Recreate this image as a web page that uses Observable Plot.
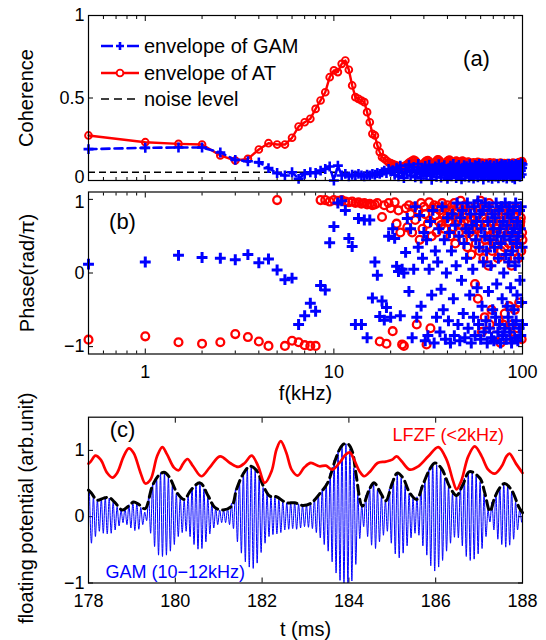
<!DOCTYPE html>
<html><head><meta charset="utf-8">
<script src="https://cdn.jsdelivr.net/npm/d3@7"></script>
<script src="https://cdn.jsdelivr.net/npm/@observablehq/plot@0.6"></script>
<style>
body{margin:0;background:#fff;}
#wrap{position:relative;width:546px;height:640px;font-family:"Liberation Sans",Arial,Helvetica,sans-serif;}
#wrap > svg{position:absolute;left:0;overflow:visible;background:transparent;}
.leg{position:absolute;left:101px;height:26px;display:flex;align-items:center;font-size:20px;white-space:nowrap;color:#000;}
.leg svg{margin-right:5px;overflow:visible;}
</style></head><body><div id="wrap"></div><script>
// ---------------- DATA ----------------
// frequency grid (kHz), 0.5 kHz resolution
const freqStep = 0.5;
const freqCount = 200;
// (a) coherence, envelope of AT (red)
const atCoherence = [
0.273,0.232,0.222,0.218,0.152,0.121,0.131,0.188,0.226,0.218,
0.218,0.259,0.327,0.353,0.374,0.434,0.485,0.535,0.626,0.667,
0.657,0.707,0.727,0.671,0.576,0.505,0.495,0.485,0.475,0.414,
0.353,0.283,0.273,0.212,0.172,0.141,0.133,0.121,0.110,0.105,
0.100,0.095,0.090,0.088,0.085,0.082,0.086,0.092,0.100,0.108,
0.114,0.120,0.126,0.122,0.112,0.100,0.092,0.088,0.095,0.106,
0.115,0.121,0.124,0.117,0.108,0.099,0.094,0.101,0.112,0.121,
0.128,0.126,0.119,0.108,0.100,0.095,0.092,0.101,0.113,0.119,
0.124,0.127,0.121,0.110,0.101,0.097,0.104,0.113,0.120,0.118,
0.110,0.102,0.098,0.105,0.114,0.121,0.118,0.109,0.100,0.094,
0.099,0.107,0.114,0.112,0.104,0.097,0.091,0.095,0.103,0.110,
0.106,0.098,0.093,0.099,0.108,0.113,0.107,0.098,0.092,0.096,
0.104,0.109,0.103,0.095,0.090,0.094,0.101,0.107,0.104,0.097,
0.091,0.096,0.104,0.110,0.106,0.098,0.092,0.090,0.097,0.105,
0.108,0.101,0.094,0.089,0.093,0.100,0.106,0.103,0.096,0.090,
0.094,0.102,0.108,0.104,0.097,0.091,0.088,0.094,0.101,0.106,
0.102,0.095,0.090,0.093,0.100,0.105,0.100,0.093,0.088,0.092,
0.099,0.104,0.101,0.095,0.090,0.094,0.102,0.108,0.104,0.097,
0.091,0.088,0.093,0.100,0.106,0.103,0.096,0.091,0.095,0.103,
0.109,0.112,0.106,0.099,0.094,0.100,0.108,0.114,0.118,0.110];
// (a) coherence, envelope of GAM (blue)
const gamCoherence = [
0.190,0.198,0.200,0.200,0.170,0.125,0.117,0.110,0.075,0.045,
0.030,0.050,0.010,0.040,0.050,0.045,0.060,0.070,0.085,0.000,
0.090,0.030,0.040,0.025,0.035,0.030,0.040,0.030,0.025,0.035,
0.030,0.040,0.035,0.045,0.040,0.050,0.060,0.045,0.070,0.055,
0.062,0.035,0.078,0.025,0.090,0.045,0.015,0.070,0.052,0.096,
0.030,0.066,0.082,0.020,0.058,0.100,0.040,0.012,0.075,0.050,
0.088,0.028,0.064,0.095,0.036,0.005,0.072,0.048,0.085,0.022,
0.060,0.098,0.042,0.018,0.080,0.055,0.092,0.030,0.068,0.010,
0.074,0.046,0.090,0.026,0.062,0.100,0.038,0.070,0.015,0.084,
0.050,0.094,0.033,0.068,0.008,0.078,0.056,0.092,0.024,0.064,
0.086,0.040,0.072,0.018,0.098,0.052,0.030,0.080,0.060,0.012,
0.070,0.092,0.036,0.064,0.088,0.020,0.058,0.100,0.044,0.076,
0.028,0.066,0.090,0.006,0.054,0.082,0.038,0.072,0.096,0.046,
0.062,0.018,0.086,0.050,0.094,0.032,0.068,0.010,0.078,0.056,
0.090,0.040,0.070,0.024,0.060,0.098,0.046,0.082,0.014,0.066,
0.052,0.088,0.030,0.074,0.100,0.042,0.064,0.020,0.092,0.058,
0.076,0.034,0.094,0.056,0.012,0.084,0.048,0.070,0.102,0.038,
0.064,0.090,0.026,0.080,0.054,0.096,0.016,0.072,0.044,0.088,
0.058,0.008,0.078,0.100,0.040,0.066,0.092,0.030,0.084,0.050,
0.094,0.046,0.070,0.022,0.086,0.060,0.104,0.036,0.076,0.098];
const noiseLevel = 0.05;
// (b) phase (rad/pi), AT (red)
const atPhase = [
-0.905,-0.86,-0.94,-0.96,-0.94,-0.83,-0.87,-0.93,-0.99,0.99,
-0.99,-0.92,-0.94,-0.98,-0.99,-0.99,0.99,0.99,0.97,0.99,
0.98,0.99,0.97,0.96,0.97,0.95,0.96,0.94,0.95,0.93,
0.94,0.92,0.93,0.95,-0.93,0.76,0.92,-0.96,0.95,0.88,
-0.79,0.96,0.67,0.85,0.55,-0.97,-0.99,0.88,0.62,0.92,
0.80,0.55,0.90,0.72,-0.70,0.85,0.45,0.95,0.60,0.90,
0.80,-0.97,0.67,0.96,-0.75,0.50,0.88,0.92,0.78,0.55,
0.90,0.70,0.85,0.65,0.95,0.80,0.60,0.88,0.75,0.92,
0.70,0.85,0.50,0.90,0.78,0.62,0.95,0.40,0.82,0.70,
0.90,0.55,0.75,0.98,0.65,0.85,0.45,0.70,0.92,0.60,
0.80,0.35,0.70,0.90,0.55,0.75,0.25,0.60,0.85,0.50,
0.72,-0.15,0.40,0.90,0.60,-0.35,0.80,0.30,0.65,0.98,
0.55,-0.80,0.75,0.20,0.90,-0.60,0.45,0.70,0.35,0.85,
0.60,0.10,0.95,-0.70,0.50,0.80,-0.50,0.30,0.70,0.55,
0.90,0.55,-0.85,0.40,0.75,0.65,0.60,0.20,0.85,-0.65,
0.45,0.70,-0.95,0.30,0.80,0.60,0.55,-0.70,0.90,0.35,
-0.55,0.65,0.80,0.90,0.50,0.20,-0.80,0.75,0.40,-0.45,
0.60,0.90,0.80,0.55,0.10,-0.70,0.70,0.45,-0.90,0.65,
0.30,-0.50,0.80,0.55,0.88,0.70,0.40,-0.75,0.60,0.20,
0.85,-0.40,0.50,0.65,0.70,0.75,0.30,-0.90,0.55,0.45];
// (b) phase (rad/pi), GAM (blue)
const gamPhase = [
0.12,0.15,0.24,0.21,0.20,0.18,0.25,0.14,0.19,0.04,
-0.09,-0.07,-0.70,-0.58,-0.41,-0.52,-0.17,-0.23,0.41,0.63,
0.95,0.98,0.85,0.47,0.36,-0.70,0.74,-0.70,0.72,-0.88,
0.72,-0.34,0.15,-0.03,-0.59,-0.38,-0.64,-0.47,0.50,-0.60,
0.60,0.47,0.09,0.02,-0.58,0.05,0.00,0.28,0.74,-0.25,
0.60,-0.88,0.05,0.90,-0.60,0.35,0.78,-0.45,0.20,0.55,
-0.92,0.45,-0.85,0.05,0.70,-0.30,0.85,-0.95,0.30,-0.60,
0.15,0.60,-0.80,-0.22,0.90,-0.50,0.45,-0.90,0.00,0.75,
-0.65,0.55,-0.95,0.30,0.80,-0.35,-0.85,0.65,0.10,0.95,
-0.70,0.50,-0.92,0.75,-0.10,0.85,-0.55,0.40,-0.88,0.60,
0.20,0.95,-0.75,0.55,-0.30,0.80,-0.95,0.65,0.05,-0.60,
0.90,-0.85,0.45,0.70,-0.20,0.98,-0.70,0.35,0.80,-0.90,
0.60,-0.45,0.85,0.15,-0.80,0.50,0.95,-0.65,0.30,-0.95,
0.70,-0.25,0.90,-0.75,0.45,0.10,-0.88,0.80,-0.50,0.60,
-0.92,0.35,0.75,-0.60,0.95,-0.15,0.50,-0.80,0.20,0.85,
-0.70,0.60,-0.95,0.40,0.90,-0.35,-0.85,0.70,0.00,0.50,
-0.75,0.95,0.25,-0.90,0.65,-0.45,0.80,-0.60,0.15,0.90,
-0.80,0.45,-0.20,0.75,-0.95,0.55,0.30,-0.70,0.85,-0.50,
0.60,-0.88,0.10,0.95,-0.65,0.40,-0.30,0.70,-0.92,0.50,
0.20,-0.75,0.85,-0.10,0.60,-0.85,0.90,-0.40,0.35,-0.70];
// (c) time series
const tStart = 178, tEnd = 188;
const gamCycles = 110; // ~11 kHz over 10 ms
// per-cycle maximum and minimum of the GAM (10-12 kHz) signal
const gamMax = [
0.37,0.30,0.25,0.27,0.29,0.28,0.22,0.15,0.10,0.13,
0.18,0.22,0.20,0.14,0.07,0.30,0.49,0.60,0.66,0.67,
0.60,0.47,0.35,0.28,0.25,0.33,0.44,0.50,0.51,0.42,
0.30,0.19,0.13,0.10,0.10,0.13,0.20,0.41,0.55,0.67,
0.74,0.76,0.71,0.58,0.44,0.34,0.30,0.30,0.27,0.23,
0.21,0.21,0.21,0.19,0.17,0.18,0.20,0.27,0.34,0.42,
0.50,0.66,0.85,0.99,1.08,1.10,1.02,0.74,0.35,0.17,
0.32,0.45,0.51,0.41,0.31,0.25,0.42,0.58,0.66,0.59,
0.47,0.35,0.28,0.30,0.45,0.58,0.71,0.80,0.78,0.72,
0.58,0.45,0.35,0.34,0.45,0.58,0.68,0.68,0.62,0.53,
0.34,0.10,0.22,0.36,0.45,0.50,0.47,0.38,0.22,0.10];
const gamMin = [
-0.40,-0.30,-0.22,-0.25,-0.26,-0.25,-0.20,-0.14,-0.09,-0.12,
-0.17,-0.21,-0.19,-0.12,-0.06,-0.25,-0.45,-0.58,-0.60,-0.58,
-0.52,-0.42,-0.30,-0.24,-0.22,-0.30,-0.42,-0.49,-0.48,-0.38,
-0.26,-0.17,-0.12,-0.09,-0.09,-0.12,-0.18,-0.38,-0.55,-0.68,
-0.76,-0.78,-0.70,-0.54,-0.40,-0.30,-0.27,-0.26,-0.24,-0.20,
-0.19,-0.18,-0.19,-0.17,-0.15,-0.16,-0.18,-0.24,-0.32,-0.42,
-0.52,-0.68,-0.85,-0.96,-1.00,-1.00,-0.97,-0.72,-0.33,-0.15,
-0.30,-0.43,-0.48,-0.38,-0.28,-0.22,-0.40,-0.56,-0.62,-0.55,
-0.44,-0.32,-0.25,-0.28,-0.44,-0.58,-0.74,-0.82,-0.76,-0.66,
-0.52,-0.40,-0.31,-0.32,-0.44,-0.60,-0.66,-0.64,-0.56,-0.48,
-0.30,-0.08,-0.20,-0.34,-0.42,-0.46,-0.43,-0.34,-0.20,-0.08];
// black dashed envelope of GAM
const envT = [178,178.06,178.2,178.35,178.47,178.6,178.78,178.92,179.04,179.15,179.3,179.47,179.6,179.74,179.86,180.04,180.2,180.37,180.57,180.76,180.91,181.1,181.3,181.41,181.56,181.72,181.87,182.03,182.18,182.33,182.56,182.75,182.93,183.12,183.32,183.51,183.7,183.85,183.97,184.08,184.16,184.31,184.47,184.58,184.73,184.85,185.0,185.12,185.25,185.4,185.56,185.71,185.86,185.98,186.13,186.33,186.48,186.63,186.78,187.02,187.13,187.25,187.36,187.48,187.59,187.75,187.92,188.0];
const envV = [0.40,0.36,0.25,0.28,0.29,0.22,0.10,0.16,0.22,0.19,0.12,0.46,0.61,0.67,0.60,0.36,0.26,0.41,0.51,0.31,0.14,0.10,0.16,0.41,0.64,0.76,0.70,0.46,0.31,0.30,0.21,0.21,0.17,0.20,0.34,0.51,0.88,1.08,1.10,0.98,0.66,0.16,0.41,0.51,0.36,0.24,0.51,0.66,0.58,0.36,0.26,0.49,0.71,0.81,0.73,0.44,0.32,0.49,0.68,0.58,0.36,0.08,0.29,0.44,0.50,0.40,0.14,0.06];
// red LFZF (<2 kHz)
const lfzfT = [178,178.05,178.16,178.28,178.43,178.55,178.66,178.81,178.93,179.04,179.2,179.31,179.43,179.58,179.7,179.81,179.97,180.08,180.18,180.28,180.41,180.6,180.79,181.03,181.26,181.45,181.6,181.76,181.91,182.06,182.22,182.33,182.43,182.56,182.68,182.82,182.97,183.12,183.32,183.47,183.62,183.78,183.93,184.02,184.12,184.24,184.35,184.5,184.66,184.85,185.0,185.1,185.21,185.4,185.6,185.83,186.06,186.25,186.4,186.48,186.59,186.75,186.9,187.06,187.21,187.36,187.52,187.63,187.7,187.85,188.0];
const lfzfV = [0.80,0.83,0.92,0.86,0.66,0.59,0.66,0.91,1.03,0.96,0.66,0.50,0.56,0.91,1.05,0.94,0.74,0.70,0.80,0.87,0.76,0.61,0.74,0.91,0.81,0.75,0.81,0.92,0.76,0.51,0.69,1.01,1.14,0.96,0.71,0.62,0.74,0.81,0.76,0.77,0.71,0.81,0.94,0.97,0.86,0.69,0.61,0.69,0.81,0.83,0.86,0.91,0.84,0.71,0.76,0.91,1.05,0.86,0.54,0.41,0.54,0.91,1.06,0.91,0.71,0.65,0.76,0.91,0.95,0.80,0.66];
// ticks
const logMajor = [1, 10, 100];
const logMinor = [0.6,0.7,0.8,0.9,2,3,4,5,6,7,8,9,20,30,40,50,60,70,80,90];
const cohTicks = [0, 0.5, 1];
const phaseTicks = [-1, 0, 1];
const potTicks = [-1, 0, 1];
const timeTicks = [178, 180, 182, 184, 186, 188];

// ---------------- BUILD ----------------
const RED = "#ff0000", BLUE = "#0000ff";
const FONT = "'Liberation Sans', Arial, Helvetica, sans-serif";
const W = 546, ML = 88, MR = 24;
const freq = d3.range(1, freqCount + 1).map(i => i * freqStep);
const coh = freq.map((f, i) => ({f, at: atCoherence[i], gam: gamCoherence[i]}));
const phase = freq.map((f, i) => ({f, at: atPhase[i], gam: gamPhase[i]}));
const period = (tEnd - tStart) / gamCycles;
const gamSignal = gamMax.flatMap((mx, i) => [
  {t: tStart + (i + 0.25) * period, v: mx},
  {t: tStart + (i + 0.75) * period, v: gamMin[i]}
]);
const envelope = envT.map((t, i) => ({t, v: envV[i]}));
const lfzf = lfzfT.map((t, i) => ({t, v: lfzfV[i]}));

const style = {fontFamily: FONT, fontSize: "18px", overflow: "visible", background: "transparent", color: "black"};
const blank = () => "";
const num = d => d < 0 ? "\u2212" + Math.abs(d) : String(d);
function inTicks(xMajor, xMinor, yTicks) {
  const m = [
    Plot.axisX({anchor: "bottom", ticks: xMajor, tickSize: -5, tickFormat: blank, label: null}),
    Plot.axisX({anchor: "top", ticks: xMajor, tickSize: -5, tickFormat: blank, label: null}),
    Plot.axisY({anchor: "left", ticks: yTicks, tickSize: -5, tickFormat: blank, label: null}),
    Plot.axisY({anchor: "right", ticks: yTicks, tickSize: -5, tickFormat: blank, label: null})
  ];
  if (xMinor) {
    m.push(Plot.axisX({anchor: "bottom", ticks: xMinor, tickSize: -3, tickFormat: blank, label: null}));
    m.push(Plot.axisX({anchor: "top", ticks: xMinor, tickSize: -3, tickFormat: blank, label: null}));
  }
  return m;
}
const lbl = (s, o) => Plot.text([s], {text: d => d, textAnchor: "middle", lineAnchor: "middle", fontSize: 20, ...o});

const wrap = document.getElementById("wrap");

// Panel (a)
const plotA = Plot.plot({
  width: W, height: 186, marginLeft: ML, marginRight: MR, marginTop: 15, marginBottom: 6,
  style,
  x: {type: "log", domain: [0.5, 100], label: null},
  y: {domain: [0, 1], label: null},
  marks: [
    ...inTicks(logMajor, logMinor, cohTicks),
    Plot.axisY({ticks: cohTicks.filter(d => d > 0), tickSize: 0, tickPadding: 4, tickFormat: num, label: null}),
    Plot.axisY({ticks: cohTicks.filter(d => d === 0), tickSize: 0, tickPadding: 4, tickFormat: num, label: null, dy: -3}),
    Plot.ruleY([noiseLevel], {stroke: "black", strokeWidth: 1.3, strokeDasharray: "7,4"}),
    Plot.line(coh, {x: "f", y: "at", stroke: RED, strokeWidth: 2.4}),
    Plot.dot(coh, {x: "f", y: "at", r: 3.4, stroke: RED, strokeWidth: 1.9, fill: "none"}),
    Plot.line(coh, {x: "f", y: "gam", stroke: BLUE, strokeWidth: 2.6, strokeDasharray: "8,5"}),
    Plot.dot(coh, {x: "f", y: "gam", symbol: "plus", r: 3.3, stroke: BLUE, strokeWidth: 2.6, fill: "none"}),
    lbl("Coherence", {frameAnchor: "left", dx: -62, rotate: -90}),
    lbl("(a)", {frameAnchor: "top-right", dx: -46, dy: 43.5, fontSize: 22}),
    Plot.frame({stroke: "black", strokeWidth: 1.2})
  ]
});
plotA.style.top = "0px";
wrap.appendChild(plotA);

// Panel (b)
const plotB = Plot.plot({
  width: W, height: 218, marginLeft: ML, marginRight: MR, marginTop: 5.5, marginBottom: 50.5,
  style,
  x: {type: "log", domain: [0.5, 100], label: null},
  y: {domain: [-1.1, 1.1], label: null},
  marks: [
    ...inTicks(logMajor, logMinor, phaseTicks),
    Plot.axisX({ticks: logMajor, tickSize: 0, tickPadding: 11, tickFormat: num, label: null}),
    Plot.axisY({ticks: phaseTicks.filter(d => d < 1), tickSize: 0, tickPadding: 4, tickFormat: num, label: null}),
    Plot.axisY({ticks: phaseTicks.filter(d => d === 1), tickSize: 0, tickPadding: 4, tickFormat: num, label: null, dy: 3}),
    Plot.dot(phase, {x: "f", y: "at", r: 3.9, stroke: RED, strokeWidth: 2.3, fill: "none"}),
    Plot.dot(phase, {x: "f", y: "gam", symbol: "plus", r: 3.6, stroke: BLUE, strokeWidth: 3, fill: "none"}),
    lbl("Phase(rad/\u03c0)", {frameAnchor: "left", dx: -61, rotate: -90}),
    lbl("f(kHz)", {frameAnchor: "bottom", dy: 39.5}),
    lbl("(b)", {frameAnchor: "top-left", dx: 34, dy: 30, fontSize: 22}),
    Plot.frame({stroke: "black", strokeWidth: 1.2})
  ]
});
plotB.style.top = "186px";
wrap.appendChild(plotB);

// Panel (c)
const plotC = Plot.plot({
  width: W, height: 236, marginLeft: ML, marginRight: MR, marginTop: 12.7, marginBottom: 57.5,
  style,
  x: {domain: [tStart, tEnd], label: null},
  y: {domain: [-1, 1.5], label: null},
  marks: [
    ...inTicks(timeTicks, null, potTicks),
    Plot.axisX({ticks: timeTicks, tickSize: 0, tickPadding: 11, tickFormat: num, label: null}),
    Plot.axisY({ticks: potTicks, tickSize: 0, tickPadding: 4, tickFormat: num, label: null}),
    Plot.line(gamSignal, {x: "t", y: "v", stroke: BLUE, strokeWidth: 1.0, curve: "monotone-x"}),
    Plot.line(envelope, {x: "t", y: "v", stroke: "black", strokeWidth: 3, strokeDasharray: "9,5", curve: "catmull-rom"}),
    Plot.line(lfzf, {x: "t", y: "v", stroke: RED, strokeWidth: 2.7, curve: "catmull-rom"}),
    lbl("floating potential (arb.unit)", {frameAnchor: "left", dx: -62, dy: 8, rotate: -90}),
    lbl("t (ms)", {frameAnchor: "bottom", dy: 46.5}),
    lbl("(c)", {frameAnchor: "top-left", dx: 34, dy: 12.5, fontSize: 22}),
    lbl("LFZF (<2kHz)", {frameAnchor: "top-left", textAnchor: "start", dx: 304, dy: 18.5, fontSize: 18, fill: RED}),
    lbl("GAM (10\u221212kHz)", {frameAnchor: "bottom-left", textAnchor: "start", dx: 17, dy: -10.5, fontSize: 18, fill: BLUE}),
    Plot.frame({stroke: "black", strokeWidth: 1.2})
  ]
});
plotC.style.top = "404px";
wrap.appendChild(plotC);

// Legend for panel (a)
const legendItems = [
  {label: "envelope of GAM", color: BLUE, dash: "12,14", width: 2.6, marker: "plus", y: 46},
  {label: "envelope of AT", color: RED, dash: null, width: 2.4, marker: "circle", y: 73},
  {label: "noise level", color: "black", dash: "8,5", width: 1.3, marker: null, y: 99}
];
for (const it of legendItems) {
  const div = document.createElement("div");
  div.className = "leg";
  div.style.top = (it.y - 13) + "px";
  let mk = "";
  if (it.marker === "plus") mk = `<path d="M15,13H23M19,9V17" stroke="${it.color}" stroke-width="2.6" fill="none"/>`;
  if (it.marker === "circle") mk = `<circle cx="19" cy="13" r="3.4" stroke="${it.color}" stroke-width="1.9" fill="white"/>`;
  div.innerHTML = `<svg width="38" height="26"><line x1="0" x2="38" y1="13" y2="13" stroke="${it.color}" stroke-width="${it.width}" ${it.dash ? `stroke-dasharray="${it.dash}"` : ""}/>${mk}</svg><span>${it.label}</span>`;
  wrap.appendChild(div);
}
</script></body></html>
